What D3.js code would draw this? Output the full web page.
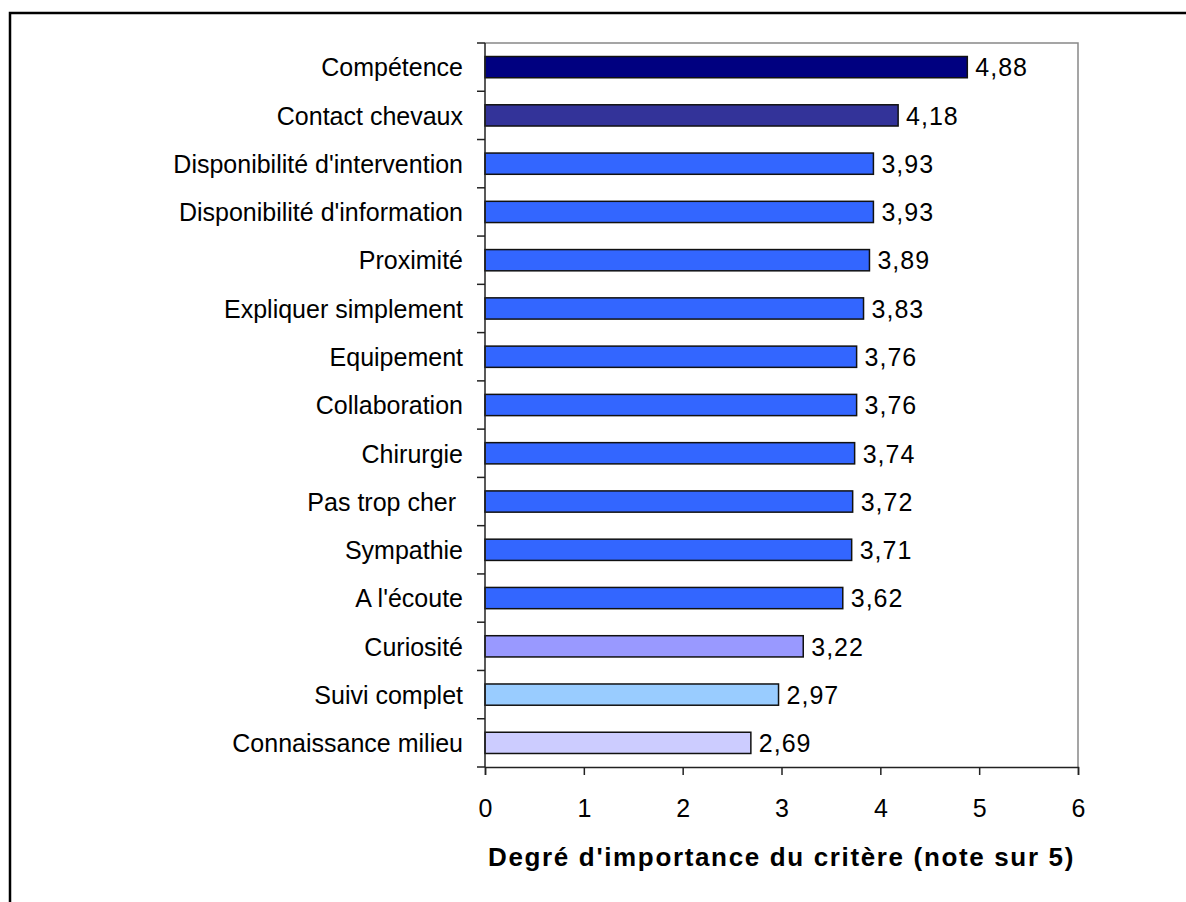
<!DOCTYPE html>
<html>
<head>
<meta charset="utf-8">
<script src="https://cdn.jsdelivr.net/npm/d3@7"></script>
<style>
  html, body { margin: 0; padding: 0; background: #fff; }
  svg { display: block; font-family: "Liberation Sans", Arial, sans-serif; }
</style>
</head>
<body>
<svg id="chart" width="1186" height="902"></svg>
<script>
const categories = [
  "Compétence", "Contact chevaux", "Disponibilité d'intervention",
  "Disponibilité d'information", "Proximité", "Expliquer simplement",
  "Equipement", "Collaboration", "Chirurgie", "Pas trop cher ",
  "Sympathie", "A l'écoute", "Curiosité", "Suivi complet", "Connaissance milieu"
];
const values = [4.88, 4.18, 3.93, 3.93, 3.89, 3.83, 3.76, 3.76, 3.74, 3.72, 3.71, 3.62, 3.22, 2.97, 2.69];
const barColors = [
  "#000080", "#333399", "#3366FF", "#3366FF", "#3366FF", "#3366FF",
  "#3366FF", "#3366FF", "#3366FF", "#3366FF", "#3366FF", "#3366FF",
  "#9999FF", "#99CCFF", "#CCCCFF"
];
const xTicks = [0, 1, 2, 3, 4, 5, 6];
const xTitle = "Degré d'importance du critère (note sur 5)";

const svg = d3.select("#chart");
const plot = { left: 485, right: 1078, top: 43, bottom: 767 };

// outer frame
svg.append("rect")
  .attr("x", 10).attr("y", 13)
  .attr("width", 1300).attr("height", 1000)
  .attr("fill", "#fff").attr("stroke", "#000").attr("stroke-width", 2.5);

const x = d3.scaleLinear().domain([0, 6]).range([plot.left, plot.right]);
const y = d3.scaleBand().domain(categories).range([plot.top, plot.bottom])
  .paddingInner(0.56).paddingOuter(0.28);

// plot area border (top/right grey)
svg.append("path")
  .attr("d", `M${plot.left},${plot.top}H${plot.right}V${plot.bottom}`)
  .attr("fill", "none").attr("stroke", "#888").attr("stroke-width", 1.5);

// bars
svg.append("g").selectAll("rect").data(values).join("rect")
  .attr("x", x(0))
  .attr("y", (d, i) => y(categories[i]))
  .attr("width", d => x(d) - x(0))
  .attr("height", y.bandwidth())
  .attr("fill", (d, i) => barColors[i])
  .attr("stroke", "#111").attr("stroke-width", 1.5);

// value labels
svg.append("g").selectAll("text").data(values).join("text")
  .attr("x", d => x(d) + 8)
  .attr("y", (d, i) => y(categories[i]) + y.bandwidth() / 2)
  .attr("dy", "0.37em")
  .attr("font-size", 25)
  .attr("letter-spacing", 1)
  .attr("fill", "#000")
  .text(d => d.toFixed(2).replace(".", ","));

// y axis: line + ticks at band boundaries
const boundaries = d3.range(categories.length + 1).map(i => plot.top + i * (plot.bottom - plot.top) / categories.length);
const yAxisG = svg.append("g");
yAxisG.append("line")
  .attr("x1", plot.left).attr("x2", plot.left)
  .attr("y1", plot.top).attr("y2", plot.bottom)
  .attr("stroke", "#222").attr("stroke-width", 1.5);
yAxisG.selectAll("line.tick").data(boundaries).join("line")
  .attr("class", "tick")
  .attr("x1", plot.left - 8).attr("x2", plot.left)
  .attr("y1", d => d).attr("y2", d => d)
  .attr("stroke", "#222").attr("stroke-width", 1.5);
yAxisG.selectAll("text").data(categories).join("text")
  .attr("x", plot.left - 22)
  .attr("y", d => y(d) + y.bandwidth() / 2)
  .attr("dy", "0.37em")
  .attr("text-anchor", "end")
  .attr("font-size", 25)
  .style("white-space", "pre")
  .attr("fill", "#000")
  .text(d => d);

// x axis
const xAxis = d3.axisBottom(x).tickValues(xTicks).tickSize(8).tickPadding(24)
  .tickFormat(d3.format("d"));
const xg = svg.append("g").attr("transform", `translate(0,${plot.bottom})`).call(xAxis);
xg.select(".domain").attr("stroke", "#222").attr("stroke-width", 1.5);
xg.selectAll(".tick line").attr("stroke", "#222").attr("stroke-width", 1.5);
xg.selectAll(".tick text")
  .attr("font-size", 25)
  .attr("font-family", "'Liberation Sans', Arial, sans-serif")
  .attr("fill", "#000");

// x axis title
svg.append("text")
  .attr("x", (plot.left + plot.right) / 2)
  .attr("y", 866)
  .attr("text-anchor", "middle")
  .attr("font-size", 26)
  .attr("font-weight", "bold")
  .attr("letter-spacing", 1.65)
  .attr("fill", "#000")
  .text(xTitle);
</script>
</body>
</html>
